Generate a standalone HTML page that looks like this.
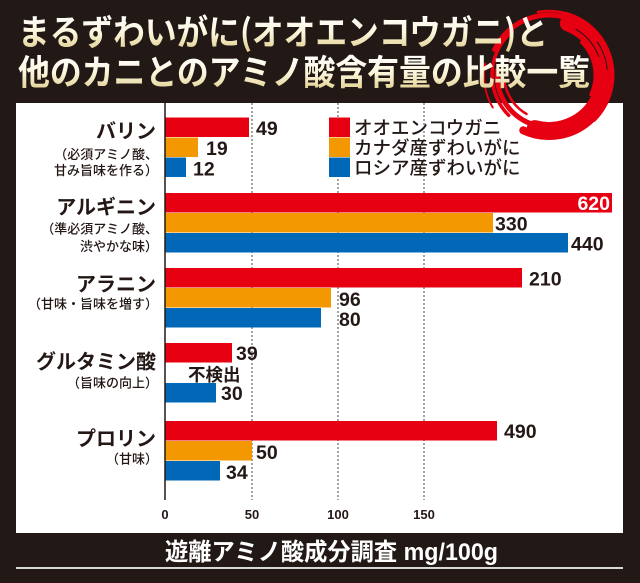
<!DOCTYPE html>
<html><head><meta charset="utf-8"><style>
html,body{margin:0;padding:0;background:#221815;}
svg{display:block;}
</style></head><body>
<svg width="640" height="583" viewBox="0 0 640 583" xmlns="http://www.w3.org/2000/svg">
<defs>
<linearGradient id="tg1" gradientUnits="userSpaceOnUse" x1="0" y1="14" x2="0" y2="48">
<stop offset="0" stop-color="#ffffff"/><stop offset="0.55" stop-color="#fbf6dc"/><stop offset="1" stop-color="#e5d49a"/>
</linearGradient>
<linearGradient id="tg2" gradientUnits="userSpaceOnUse" x1="0" y1="54" x2="0" y2="88">
<stop offset="0" stop-color="#ffffff"/><stop offset="0.55" stop-color="#fbf6dc"/><stop offset="1" stop-color="#e5d49a"/>
</linearGradient>
</defs>
<rect x="0" y="0" width="640" height="583" fill="#221815"/>
<!-- panel -->
<rect x="16" y="103" width="607" height="430" fill="#ffffff"/>
<!-- grid -->
<g stroke="#444" stroke-width="1" stroke-dasharray="2 2">
<line x1="252" y1="103" x2="252" y2="500"/>
<line x1="338" y1="103" x2="338" y2="500"/>
<line x1="424" y1="103" x2="424" y2="500"/>
</g>
<!-- bars -->
<g>
<rect x="165" y="117.5" width="84" height="19.5" fill="#e60012"/>
<rect x="165" y="137.5" width="33" height="19.5" fill="#f39800"/>
<rect x="165" y="157.5" width="21" height="19.5" fill="#0068b7"/>

<rect x="165" y="193" width="447" height="19.5" fill="#e60012"/>
<rect x="165" y="213" width="328" height="19.5" fill="#f39800"/>
<rect x="165" y="233" width="403" height="19.5" fill="#0068b7"/>

<rect x="165" y="268" width="357" height="19.5" fill="#e60012"/>
<rect x="165" y="288" width="166" height="19.5" fill="#f39800"/>
<rect x="165" y="308" width="156" height="19.5" fill="#0068b7"/>

<rect x="165" y="343" width="67" height="19.5" fill="#e60012"/>
<rect x="165" y="383" width="51" height="19.5" fill="#0068b7"/>

<rect x="165" y="421" width="332" height="19.5" fill="#e60012"/>
<rect x="165" y="441" width="87" height="19.5" fill="#f39800"/>
<rect x="165" y="461" width="55" height="19.5" fill="#0068b7"/>
</g>
<!-- axis -->
<line x1="165" y1="103" x2="165" y2="500" stroke="#231815" stroke-width="1.5"/>
<!-- value labels -->
<g font-family="'Liberation Sans', sans-serif" font-weight="bold" font-size="19.5" fill="#231815">
<text x="256" y="135">49</text>
<text x="206" y="155">19</text>
<text x="193" y="175.5">12</text>
<text x="610" y="210" text-anchor="end" fill="#ffffff">620</text>
<text x="495" y="230.5">330</text>
<text x="571" y="250.5">440</text>
<text x="529" y="285.5">210</text>
<text x="339" y="306">96</text>
<text x="339" y="326">80</text>
<text x="236" y="360">39</text>
<text x="221" y="400">30</text>
<text x="504" y="438">490</text>
<text x="256" y="459">50</text>
<text x="226" y="479">34</text>
</g>
<text x="188" y="381" font-family="'Noto Sans CJK JP', sans-serif" font-weight="bold" font-size="17.5" fill="#231815">不検出</text>
<!-- tick labels -->
<g font-family="'Liberation Sans', sans-serif" font-weight="bold" font-size="13" fill="#231815" text-anchor="middle">
<text x="165" y="519">0</text>
<text x="252" y="519">50</text>
<text x="338" y="519">100</text>
<text x="424" y="519">150</text>
</g>
<!-- left labels -->
<g font-family="'Liberation Sans', 'Noto Sans CJK JP', sans-serif" fill="#231815" text-anchor="end">
<g font-size="20" font-weight="bold">
<text x="156" y="138">バリン</text>
<text x="156" y="214">アルギニン</text>
<text x="156" y="291">アラニン</text>
<text x="156" y="368.5">グルタミン酸</text>
<text x="156" y="445.5">プロリン</text>
</g>
<g font-size="13" font-weight="500">
<text x="158" y="159">（必須アミノ酸、</text>
<text x="158" y="175">甘み旨味を作る）</text>
<text x="158" y="233.5">（準必須アミノ酸、</text>
<text x="158" y="251">渋やかな味）</text>
<text x="158" y="308.5">（甘味・旨味を増す）</text>
<text x="158" y="387.5">（旨味の向上）</text>
<text x="158" y="463.5">（甘味）</text>
</g>
</g>
<!-- legend -->
<rect x="329" y="117.5" width="21" height="19.5" fill="#e60012"/>
<rect x="329" y="137.5" width="21" height="19.5" fill="#f39800"/>
<rect x="329" y="157.5" width="21" height="19.5" fill="#0068b7"/>
<g font-family="'Liberation Sans', 'Noto Sans CJK JP', sans-serif" font-size="18.5" font-weight="500" fill="#231815">
<text x="354" y="134.5">オオエンコウガニ</text>
<text x="354" y="154.5">カナダ産ずわいがに</text>
<text x="354" y="174.5">ロシア産ずわいがに</text>
</g>
<!-- brush circle -->
<g fill="none" stroke="#e60012" stroke-linecap="round">
<circle cx="549" cy="75" r="55" stroke-width="16" pathLength="360" stroke-dasharray="175 400" transform="rotate(-70 549 75)"/>
<circle cx="549" cy="75" r="62" stroke-width="7" pathLength="360" stroke-dasharray="120 400" transform="rotate(-75 549 75)"/>
<circle cx="549" cy="75" r="61" stroke-width="8" pathLength="360" stroke-dasharray="70 400" transform="rotate(45 549 75)"/>
<circle cx="549" cy="75" r="60" stroke-width="5" pathLength="360" stroke-dasharray="115 400" transform="rotate(-155 549 75)"/>
<circle cx="549" cy="75" r="52" stroke-width="5" pathLength="360" stroke-dasharray="85 400" transform="rotate(100 549 75)"/>
<circle cx="549" cy="75" r="57" stroke-width="3.5" pathLength="360" stroke-dasharray="95 400" transform="rotate(135 549 75)"/>
<circle cx="549" cy="75" r="46" stroke-width="3" pathLength="360" stroke-dasharray="70 400" transform="rotate(-45 549 75)"/>
<circle cx="549" cy="75" r="64" stroke-width="2.5" pathLength="360" stroke-dasharray="60 400" transform="rotate(-100 549 75)"/>
<circle cx="549" cy="75" r="45" stroke-width="2.5" pathLength="360" stroke-dasharray="50 400" transform="rotate(120 549 75)"/>
<circle cx="549" cy="75" r="65" stroke-width="2" pathLength="360" stroke-dasharray="40 400" transform="rotate(150 549 75)"/>
</g>
<g fill="none" stroke="#221815" stroke-width="1">
<circle cx="549" cy="75" r="53" pathLength="360" stroke-dasharray="40 400" transform="rotate(-60 549 75)"/>
<circle cx="549" cy="75" r="58.5" pathLength="360" stroke-dasharray="30 400" transform="rotate(-35 549 75)"/>
</g>
<!-- title -->
<g font-family="'Noto Sans CJK JP', sans-serif" font-weight="bold" font-size="35">
<text x="18" y="45" textLength="530" lengthAdjust="spacingAndGlyphs" fill="url(#tg1)">まるずわいがに(オオエンコウガニ)と</text>
<text x="18" y="85" textLength="572" lengthAdjust="spacingAndGlyphs" fill="url(#tg2)">他のカニとのアミノ酸含有量の比較一覧</text>
</g>
<!-- footer -->
<text x="165" y="560" textLength="333" lengthAdjust="spacingAndGlyphs" font-family="'Liberation Sans', 'Noto Sans CJK JP', sans-serif" font-weight="bold" font-size="24" fill="#ffffff">遊離アミノ酸成分調査 mg/100g</text>
<line x1="16" y1="568" x2="623" y2="568" stroke="#d8d8d8" stroke-width="2"/>
</svg>
</body></html>
